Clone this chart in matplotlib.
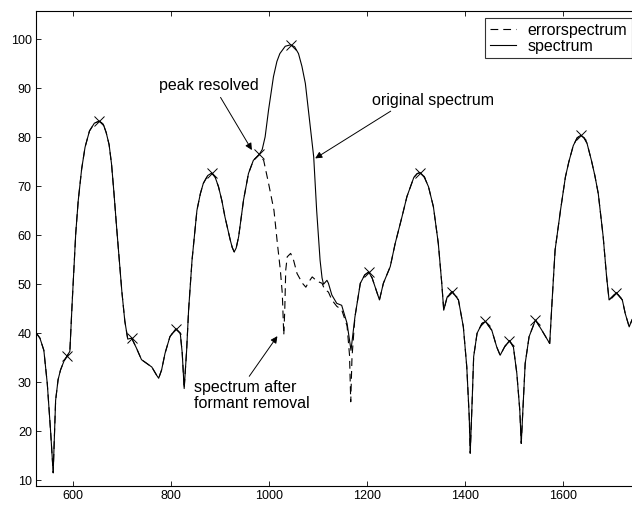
import numpy as np
import matplotlib
matplotlib.use('Agg')
import matplotlib.pyplot as plt

plt.rcParams['font.family'] = ['Liberation Sans', 'DejaVu Sans']

# spectrum (Hz, dB)
freq = [525, 533, 541, 548, 555, 560, 565, 570, 575, 582, 588, 594, 599, 606, 611, 618,
        625, 634, 644, 654, 662, 668, 674, 679, 684, 689, 695, 700, 706, 712, 720, 730,
        740, 751, 761, 771, 775, 781, 788, 798, 810, 819, 823, 827, 832, 836, 843, 853,
        860, 866, 875, 883, 890, 897, 904, 910, 921, 925, 929, 933, 938, 948, 958, 968,
        980, 986, 992, 999, 1009, 1016, 1022, 1033, 1044, 1052, 1060, 1067, 1074, 1084,
        1091, 1097, 1104, 1108, 1111, 1118, 1121, 1128, 1138, 1148, 1159, 1167, 1175,
        1186, 1195, 1203, 1210, 1216, 1225, 1233, 1247, 1257, 1271, 1281, 1295, 1302,
        1308, 1316, 1325, 1335, 1345, 1352, 1356, 1363, 1373, 1386, 1396, 1403, 1408,
        1410, 1414, 1417, 1424, 1434, 1441, 1454, 1464, 1471, 1480, 1490, 1498, 1505,
        1511, 1514, 1518, 1522, 1530, 1543, 1556, 1572, 1577, 1583, 1594, 1604, 1611,
        1620, 1628, 1635, 1642, 1648, 1657, 1664, 1671, 1681, 1688, 1693, 1699, 1708,
        1720, 1726, 1734, 1740]
spec = [40.1, 39.0, 36.5, 29.7, 19.6, 11.5, 26.3, 30.5, 32.5, 34.3, 35.3, 36.3, 46.8, 60.4,
        67.0, 73.5, 78.0, 81.3, 82.9, 83.3, 82.7, 81.0, 78.5, 74.5, 68.5, 62.0, 54.5, 48.5,
        42.5, 38.8, 39.0, 36.9, 34.6, 33.8, 33.1, 31.4, 30.8, 32.5, 35.9, 39.3, 40.9, 40.0,
        36.0, 28.7, 36.5, 44.7, 54.9, 65.1, 68.5, 70.6, 72.2, 72.7, 71.9, 69.9, 67.0, 63.8,
        59.0, 57.5, 56.6, 57.4, 59.7, 67.2, 72.6, 75.3, 76.5, 77.5, 80.1, 85.6, 92.4, 95.5,
        97.1, 98.6, 98.9, 98.5, 97.1, 94.5, 91.0, 82.1, 76.0, 65.1, 54.9, 51.3, 50.0, 50.8,
        50.2, 47.8, 46.1, 45.7, 42.0, 36.5, 43.3, 50.2, 51.9, 52.5, 51.3, 49.5, 46.8, 50.2,
        53.6, 58.3, 63.8, 67.9, 71.8, 72.6, 72.8, 72.0, 69.9, 65.8, 58.3, 50.2, 44.7, 47.4,
        48.5, 46.8, 41.3, 33.1, 22.9, 15.5, 26.3, 35.2, 40.0, 42.0, 42.4, 40.6, 37.2, 35.5,
        37.2, 38.5, 37.2, 31.8, 24.3, 17.5, 25.7, 33.8, 39.3, 42.7, 40.6, 37.9, 46.8, 57.0,
        65.1, 71.9, 75.0, 78.3, 79.9, 80.4, 79.9, 78.8, 75.3, 72.2, 68.5, 59.7, 51.5, 46.8,
        47.4, 48.3, 46.8, 44.0, 41.3, 42.8]

# error spectrum where it departs from the spectrum (formant removed)
err_freq = [980, 989, 999, 1010, 1017, 1023, 1027, 1029, 1030, 1032, 1034, 1037, 1044,
            1050, 1057, 1068, 1075, 1081, 1088, 1098, 1108, 1113, 1121, 1128, 1138, 1148,
            1159, 1164, 1166.5, 1169, 1175]
err_spec = [76.5, 75.3, 70.6, 65.1, 58.3, 52.9, 48.1, 42.7, 39.6, 44.7, 52.9, 55.6, 56.3,
            54.9, 52.2, 50.2, 49.4, 50.5, 51.5, 50.6, 50.2, 49.0, 48.4, 46.8, 45.5, 44.8,
            41.5, 35.5, 26.0, 35.0, 43.3]

# detected peaks
peak_freq = [588, 654, 720, 810, 883, 980, 1044, 1203, 1308, 1373, 1441, 1490, 1543, 1635, 1708]
peak_amp = [35.3, 83.3, 39.0, 40.9, 72.7, 76.5, 98.9, 52.5, 72.8, 48.5, 42.4, 38.5, 42.7, 80.4, 48.3]

freq = np.array(freq)
spec = np.array(spec)
before = freq < err_freq[0]
after = freq > err_freq[-1]
err_x = np.concatenate([freq[before], err_freq, freq[after]])
err_y = np.concatenate([spec[before], err_spec, spec[after]])

fig = plt.figure(figsize=(6.32, 5.05), dpi=100)
ax = fig.add_axes([36 / 632, 19 / 505, 603 / 632, 475 / 505])

ax.plot(err_x, err_y, color='k', lw=0.8, dashes=(7, 4.5), label='errorspectrum')
ax.plot(freq, spec, color='k', lw=0.8, label='spectrum')
ax.plot(peak_freq, peak_amp, 'kx', ms=7.5, mew=0.7)

ax.set_xlim(525, 1754)
ax.set_ylim(8.8, 105.8)
ax.set_xticks([600, 800, 1000, 1200, 1400, 1600])
ax.set_yticks(range(10, 101, 10))
ax.tick_params(direction='in', length=3.5, width=0.6, labelsize=9, top=True, right=True, pad=3)
for s in ax.spines.values():
    s.set_linewidth(0.8)

fs = 11.5
arrow = dict(arrowstyle='-|>', color='k', lw=0.7, mutation_scale=10, shrinkA=1, shrinkB=0)
ax.annotate('peak resolved', xy=(965, 77.4), xytext=(878, 90.5), fontsize=fs,
            ha='center', va='center', arrowprops=dict(arrow, relpos=(0.59, 0)))
ax.annotate('original spectrum', xy=(1094, 75.7), xytext=(1334, 87.6), fontsize=fs,
            ha='center', va='center', arrowprops=dict(arrow, relpos=(0.2, 0)))
ax.annotate('spectrum after\nformant removal', xy=(1017, 39.4), xytext=(848, 30.4), fontsize=fs,
            ha='left', va='top', linespacing=1.05, arrowprops=dict(arrow, relpos=(0.45, 1.0)))

leg = ax.legend(loc='upper right', fontsize=fs, handlelength=1.6, frameon=True, fancybox=False,
                borderpad=0.3, labelspacing=0.05, handletextpad=0.75, borderaxespad=0.44,
                handleheight=0.6)
leg.get_frame().set_edgecolor('k')
leg.get_frame().set_linewidth(0.8)

fig.savefig('out.png', dpi=100)
